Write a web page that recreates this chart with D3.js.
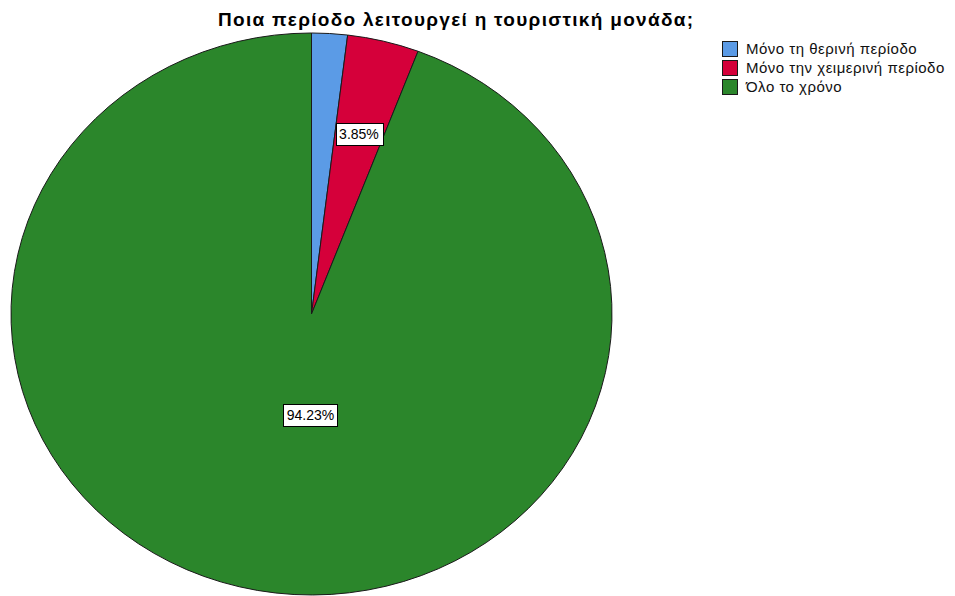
<!DOCTYPE html>
<html><head><meta charset="utf-8">
<script src="https://cdn.jsdelivr.net/npm/d3@7"></script>
<style>body{margin:0;background:#fff}svg{display:block}</style>
</head><body>
<svg id="c" width="955" height="596"></svg>
<script>
const title = "Ποια περίοδο λειτουργεί η τουριστική μονάδα;";
const categories = ["Μόνο τη θερινή περίοδο", "Μόνο την χειμερινή περίοδο", "Όλο το χρόνο"];
const values = [1.92, 3.85, 94.23];
const labels = ["", "3.85%", "94.23%"];
const colors = ["#5b9be6", "#d5003a", "#2b862b"];
const labelRadius = [0, 0.66, 0.365];

const svg = d3.select("#c");
const cx = 311.5, cy = 314, rx = 300.5, ry = 281;
const font = "'Liberation Sans', Arial, sans-serif";

svg.append("text").attr("x", 218).attr("y", 26)
  .attr("textLength", 475).attr("lengthAdjust", "spacing")
  .style("font-family", font).style("font-weight", "bold").style("font-size", "19px")
  .text(title);

const pie = d3.pie().sort(null).value(d => d)(values);
const arc = d3.arc().innerRadius(0).outerRadius(rx);
const g = svg.append("g").attr("transform", `translate(${cx},${cy}) scale(1,${ry/rx})`);
g.selectAll("path").data(pie).join("path")
  .attr("d", arc).attr("fill", (d, i) => colors[i])
  .attr("stroke", "#1a1a1a").attr("stroke-width", 1)
  .attr("vector-effect", "non-scaling-stroke");

const lg = svg.append("g");
pie.forEach((d, i) => {
  if (!labels[i]) return;
  const a = (d.startAngle + d.endAngle) / 2;
  let x = cx + Math.sin(a) * rx * labelRadius[i];
  let y = cy - Math.cos(a) * ry * labelRadius[i];
  if (i === 2) x = cx - 1;
  const t = lg.append("text").attr("x", x).attr("y", y + 5).attr("text-anchor", "middle")
    .style("font-family", font).style("font-size", "14px").text(labels[i]);
  const bb = t.node().getBBox();
  lg.insert("rect", "text").attr("x", Math.round(bb.x - 3.5) + 0.5).attr("y", Math.round(y - 11) + 0.5)
    .attr("width", Math.round(bb.width + 7)).attr("height", 22)
    .attr("fill", "#fff").attr("stroke", "#000").attr("stroke-width", 1);
});

const leg = svg.append("g");
categories.forEach((c, i) => {
  const y = 42 + i * 19;
  leg.append("rect").attr("x", 722.5).attr("y", y - 0.5).attr("width", 15).attr("height", 15)
    .attr("fill", colors[i]).attr("stroke", "#1a1a1a").attr("stroke-width", 1);
  leg.append("text").attr("x", 746).attr("y", y + 12)
    .style("font-family", font).style("font-size", "15px").style("letter-spacing", "0.5px")
    .style("fill", "#111").text(c);
});
</script>
</body></html>
